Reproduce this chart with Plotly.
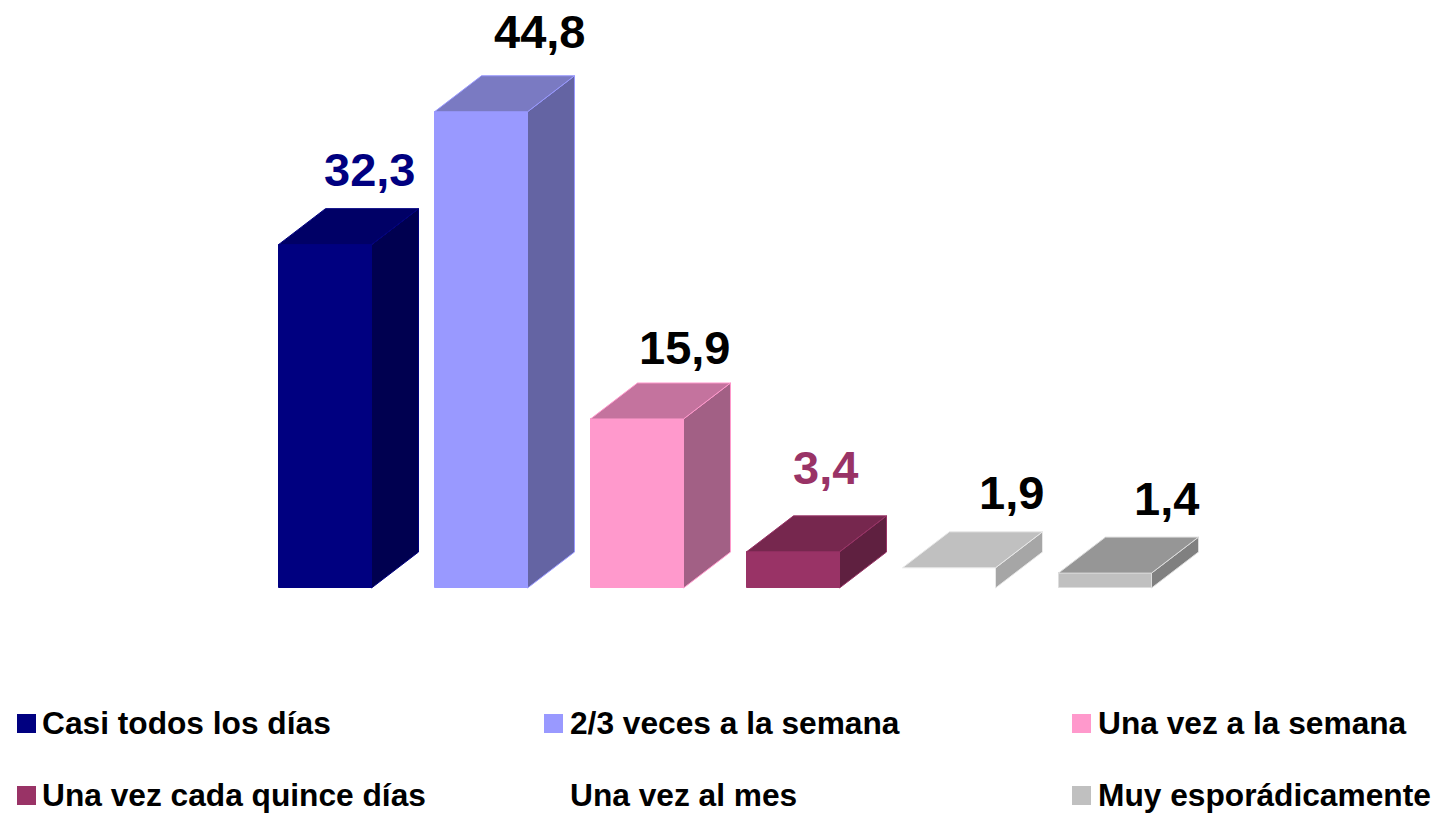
import plotly.graph_objects as go

# ---- data ----
categories = ["Casi todos los días", "2/3 veces a la semana", "Una vez a la semana",
              "Una vez cada quince días", "Una vez al mes", "Muy esporádicamente"]
values = [32.3, 44.8, 15.9, 3.4, 1.9, 1.4]
value_labels = ["32,3", "44,8", "15,9", "3,4", "1,9", "1,4"]

# ---- styles ----
front_colors = ["#000080", "#9999FF", "#FF99CC", "#993366", "#FFFFFF", "#C0C0C0"]
top_colors = ["#000066", "#7A7AC2", "#C4739E", "#76274E", "#C0C0C0", "#969696"]
side_colors = ["#000050", "#6464A3", "#A26085", "#5F2040", "#A6A6A6", "#808080"]
edge_colors = ["#000080", "#9999FF", "#FF99CC", "#993366", "#E8E8E8", "#DDDDDD"]
front_edges = ["#000080", "#9999FF", "#FF99CC", "#993366", "#FFFFFF", "#DDDDDD"]
label_colors = ["#000080", "#000000", "#000000", "#993366", "#000000", "#000000"]
label_dx = [44, 58, 47, 32, 62, 61]
label_dy = [-75, -80, -71, -84, -75, -75]

W, H = 1437, 813
PX_PER_CAT = 156.0
PX_PER_UNIT = 10.63
X0_PX = 325.0
BASE_PX = 588.0
BAR_WIDTH = 93 / PX_PER_CAT
DEPTH_X = 47 / PX_PER_CAT
DEPTH_Y = 36 / PX_PER_UNIT

fig = go.Figure()
positions = list(range(len(categories)))

fig.add_trace(go.Bar(
    x=positions, y=values, width=BAR_WIDTH,
    marker=dict(color=front_colors, line=dict(color=front_edges, width=1)),
    hoverinfo="skip", showlegend=False, name="Frecuencia"))

for i, (cat, v) in enumerate(zip(categories, values)):
    left, right = i - BAR_WIDTH / 2, i + BAR_WIDTH / 2
    fig.add_trace(go.Scatter(
        x=[right, right + DEPTH_X, right + DEPTH_X, right, right],
        y=[0, DEPTH_Y, v + DEPTH_Y, v, 0],
        mode="lines", fill="toself", fillcolor=side_colors[i],
        line=dict(color=edge_colors[i], width=1),
        hoverinfo="skip", showlegend=False, name=cat + " (lateral)"))
    fig.add_trace(go.Scatter(
        x=[left, left + DEPTH_X, right + DEPTH_X, right, left],
        y=[v, v + DEPTH_Y, v + DEPTH_Y, v, v],
        mode="lines", fill="toself", fillcolor=top_colors[i],
        line=dict(color=edge_colors[i], width=1),
        hoverinfo="skip", showlegend=False, name=cat + " (superior)"))

annotations = []
for i, v in enumerate(values):
    annotations.append(dict(
        x=i, y=v, xref="x", yref="y", text="<b>" + value_labels[i] + "</b>", showarrow=False,
        xshift=label_dx[i], yshift=-label_dy[i], xanchor="center", yanchor="middle",
        font=dict(family="Liberation Sans", size=47, color=label_colors[i]),
        ))

# legend block (3 columns, 2 rows)
legend_swatch_x = [17, 544, 1072]
legend_text_x = [42, 570, 1098]
legend_y = [723, 795]
shapes = []
for i, cat in enumerate(categories):
    col, row = i % 3, i // 3
    sx, tx, ly = legend_swatch_x[col], legend_text_x[col], legend_y[row]
    shapes.append(dict(type="rect", xref="paper", yref="paper",
                       x0=sx / W, x1=(sx + 19) / W,
                       y0=1 - (ly + 10) / H, y1=1 - (ly - 9) / H,
                       fillcolor=front_colors[i], line=dict(width=0)))
    annotations.append(dict(
        x=tx / W, y=1 - ly / H, xref="paper", yref="paper", text="<b>" + cat + "</b>",
        showarrow=False, xanchor="left", yanchor="middle", xshift=-2,
        font=dict(family="Liberation Sans", size=31.7, color="#000000")))

fig.update_layout(
    width=W, height=H, margin=dict(l=0, r=0, t=0, b=0),
    paper_bgcolor="white", plot_bgcolor="white",
    xaxis=dict(range=[-X0_PX / PX_PER_CAT, (W - X0_PX) / PX_PER_CAT], visible=False, fixedrange=True),
    yaxis=dict(range=[-(H - BASE_PX) / PX_PER_UNIT, BASE_PX / PX_PER_UNIT], visible=False, fixedrange=True),
    annotations=annotations, shapes=shapes, showlegend=False, bargap=0,
)

fig.write_html("out.html", post_script="document.body.style.margin='0';",
               config={"displayModeBar": False})
